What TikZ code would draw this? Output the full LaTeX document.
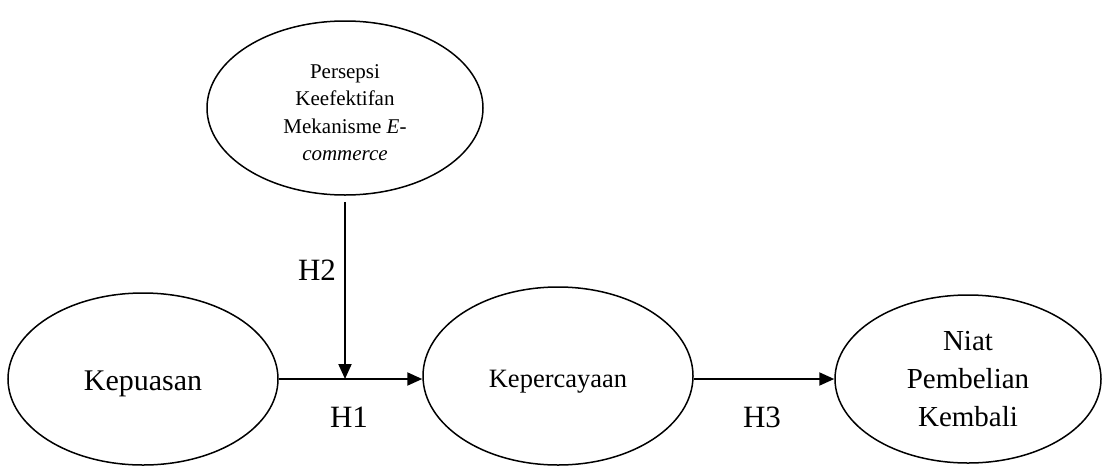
\documentclass[tikz,border=0pt]{standalone}
\usepackage{fontspec}
\setmainfont{Liberation Serif}
\usetikzlibrary{shapes.geometric,arrows.meta}
\newcommand{\lowerby}[2]{\raisebox{-#1}[\height][\depth]{#2}}
\begin{document}
\begin{tikzpicture}[x=1pt,y=-1pt,
  oval/.style={draw,line width=1.5pt,ellipse,inner sep=0pt,align=center},
  conn/.style={line width=2pt,-{Triangle[length=15pt,width=13pt]}},
  lbl/.style={font=\fontsize{31}{34}\selectfont}]
\useasboundingbox (0,0) rectangle (1102,466);
\node[oval,minimum width=276pt,minimum height=174pt,
  font=\fontsize{21}{27.5}\selectfont] (pem) at (345,108)
  {\lowerby{6pt}{\begin{tabular}{@{}c@{}}Persepsi\\Keefektifan\\Mekanisme \textit{E-}\\\textit{commerce}\end{tabular}}};
\node[oval,minimum width=270pt,minimum height=172pt,
  font=\fontsize{30}{34}\selectfont] (kep) at (143,379) {\lowerby{5pt}{Kepuasan}};
\node[oval,minimum width=270pt,minimum height=178pt,
  font=\fontsize{26.5}{30}\selectfont] (kpc) at (558,376) {\lowerby{6pt}{Kepercayaan}};
\node[oval,minimum width=266pt,minimum height=168pt,
  font=\fontsize{29}{38}\selectfont] (niat) at (968,379) {Niat\\Pembelian\\Kembali};
\coordinate (mid) at (pem.south |- kep.east);
\draw[conn] (kep.east) -- (kep.east -| kpc.west);
\draw[conn] ([yshift=-6pt]pem.south) -- (mid);
\draw[conn] (kpc.east |- kep.east) -- (niat.west |- kep.east);
\node[lbl] (h2) at (317,270) {H2};
\node[lbl] (h1) at (349,417) {H1};
\node[lbl] (h3) at (762,417) {H3};
\end{tikzpicture}
\end{document}
